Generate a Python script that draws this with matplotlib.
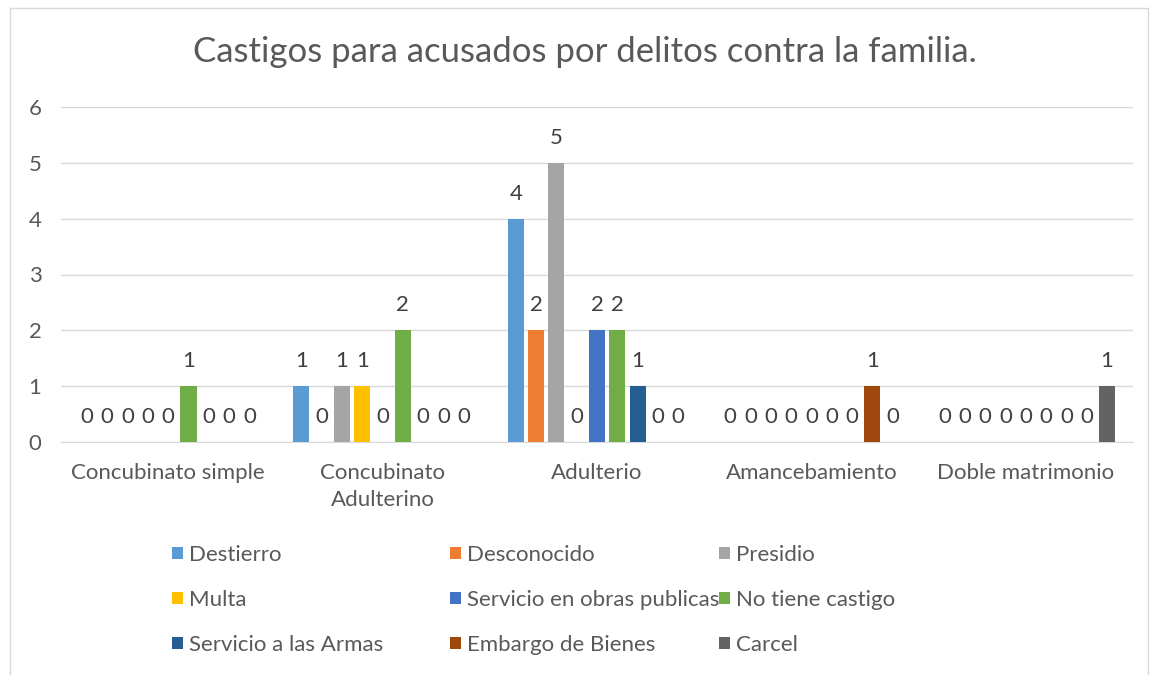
import matplotlib
matplotlib.use("Agg")
import matplotlib.pyplot as plt
from matplotlib.patches import Rectangle, Patch
import numpy as np

categories = ["Concubinato simple", "Concubinato\nAdulterino", "Adulterio",
              "Amancebamiento", "Doble matrimonio"]
series_names = ["Destierro", "Desconocido", "Presidio", "Multa",
                "Servicio en obras publicas", "No tiene castigo",
                "Servicio a las Armas", "Embargo de Bienes", "Carcel"]
destierro = [0, 1, 4, 0, 0]
desconocido = [0, 0, 2, 0, 0]
presidio = [0, 1, 5, 0, 0]
multa = [0, 1, 0, 0, 0]
servicio_obras = [0, 0, 2, 0, 0]
no_tiene_castigo = [1, 2, 2, 0, 0]
servicio_armas = [0, 0, 1, 0, 0]
embargo_bienes = [0, 0, 0, 1, 0]
carcel = [0, 0, 0, 0, 1]
series_values = [destierro, desconocido, presidio, multa, servicio_obras,
                 no_tiene_castigo, servicio_armas, embargo_bienes, carcel]
colors = ["#5B9BD5", "#ED7D31", "#A5A5A5", "#FFC000", "#4472C4",
          "#70AD47", "#255E91", "#9E480E", "#636363"]
yticks = [0, 1, 2, 3, 4, 5, 6]

plt.rcParams['font.family'] = ['Lato', 'DejaVu Sans']
txt = "#595959"

fig = plt.figure(figsize=(11.58, 6.75), dpi=100)
fig.patches.append(Rectangle((10/1158, -0.05), 1138/1158, (675-8)/675 + 0.05,
                             transform=fig.transFigure, fill=False,
                             edgecolor="#D9D9D9", linewidth=1))
ax = fig.add_axes([61/1158, 233/675, 1072/1158, 335/675])

x = np.arange(len(categories))
step = 0.0947
width = 0.075
n = len(series_names)
for i, (name, vals, c) in enumerate(zip(series_names, series_values, colors)):
    pos = x + (i - (n - 1) / 2) * step
    ax.bar(pos, vals, width=width, color=c, label=name, zorder=3)
    for px, v in zip(pos, vals):
        ax.annotate(str(v), (px, v), xytext=(0, 18), textcoords="offset points",
                    ha="center", va="center", fontsize=16, color="#404040")

ax.set_xlim(-0.5, len(categories) - 0.5)
ax.set_ylim(0, 6)
ax.set_yticks(yticks)
ax.set_xticks(x)
ax.set_xticklabels(categories, fontsize=16, color=txt, linespacing=1.45)
ax.tick_params(axis='y', labelsize=16, labelcolor=txt, length=0, pad=14)
ax.tick_params(axis='x', length=0, pad=15)
ax.grid(axis='y', color="#D9D9D9", linewidth=1, zorder=0)
for s in ["top", "right", "left"]:
    ax.spines[s].set_visible(False)
ax.spines["bottom"].set_color("#D9D9D9")
ax.set_axisbelow(True)

fig.text(585/1158, 1 - 52/675, "Castigos para acusados por delitos contra la familia.",
         ha="center", va="center", fontsize=25, color=txt)

col_x = [172/1158, 450/1158, 719/1158]
for c in range(3):
    idx = [c, c + 3, c + 6]
    hs = [Patch(facecolor=colors[k]) for k in idx]
    labs = [series_names[k] for k in idx]
    leg = fig.legend(hs, labs, loc="upper left", bbox_to_anchor=(col_x[c], 1 - 545/675),
                     frameon=False, fontsize=16, handlelength=0.5, handleheight=0.5,
                     handletextpad=0.25, labelspacing=1.12, borderaxespad=0, borderpad=0)
    for t in leg.get_texts():
        t.set_color(txt)

fig.savefig("out.png", dpi=100)
